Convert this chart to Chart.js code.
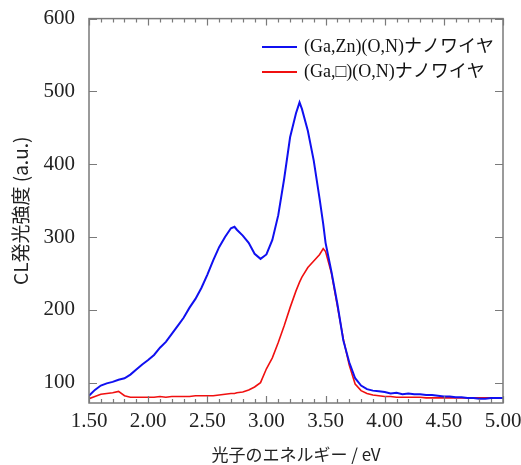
<!DOCTYPE html>
<html>
<head>
<meta charset="utf-8">
<script src="https://cdn.jsdelivr.net/npm/chart.js@4"></script>
<style>
  html, body { margin: 0; padding: 0; background: #fff; }
  #wrap { width: 521px; height: 465px; }
</style>
</head>
<body>
<div id="wrap"><canvas id="chartCL" width="521" height="465"></canvas></div>
<script>
// CL spectra of the two nanowires
const energia = [1.50,1.55,1.60,1.65,1.70,1.75,1.80,1.85,1.90,1.95,
  2.00,2.05,2.10,2.15,2.20,2.25,2.30,2.35,2.40,2.45,
  2.50,2.55,2.60,2.65,2.70,2.73,2.75,2.80,2.85,2.90,2.95,
  3.00,3.05,3.10,3.15,3.20,3.25,3.28,3.30,3.35,3.40,3.45,3.48,
  3.50,3.55,3.60,3.65,3.70,3.75,3.80,3.85,3.90,3.95,
  4.00,4.05,4.10,4.15,4.20,4.25,4.30,4.35,4.40,4.45,
  4.50,4.55,4.60,4.65,4.70,4.75,4.80,4.85,4.90,4.95,5.00]

const gaZn = [82,90,96,99,101,104,106,111,118,125,
  131,138,148,156,167,178,189,203,215,230,
  248,268,286,300,312,314,310,302,292,277,270,
  276,296,330,380,437,470,485,476,446,405,352,318,
  292,252,208,158,128,106,96,91,89,88,
  87,85,86,84,85,84,84,83,83,82,
  81,81,80,80,79,79,78,78,79,79,79]

const gaVac = [78,81,84,85,86,88,82,80,80,80,
  80,80,81,80,81,81,81,81,82,82,
  82,82,83,84,85,85,86,87,90,94,100,
  119,134,155,178,203,226,238,245,258,267,276,284,
  280,250,205,160,124,98,89,85,83,82,
  81,81,80,80,80,80,80,79,79,79,
  79,79,79,79,79,79,79,79,79,79,79]

const xTicks = [1.5, 2.0, 2.5, 3.0, 3.5, 4.0, 4.5, 5.0]
const yTicks = [100, 200, 300, 400, 500, 600]

const serie = (xs, ys) => xs.map((x, i) => ({ x: x, y: ys[i] }))

const marco = {
  id: 'marco',
  afterDraw(chart) {
    const ctx = chart.ctx
    const a = chart.chartArea
    const sx = chart.scales.x
    const sy = chart.scales.y
    ctx.save()
    ctx.strokeStyle = '#7a7a7a'
    ctx.lineWidth = 1.5
    ctx.strokeRect(a.left, a.top, a.right - a.left, a.bottom - a.top)
    ctx.lineWidth = 1.2
    ctx.beginPath()
    for (let k = 15; k <= 50; k++) {
      const px = Math.round(sx.getPixelForValue(k / 10)) + 0.5
      const len = (k % 5 === 0) ? 7 : 4
      ctx.moveTo(px, a.bottom); ctx.lineTo(px, a.bottom - len)
      ctx.moveTo(px, a.top); ctx.lineTo(px, a.top + len)
    }
    yTicks.forEach(v => {
      const py = Math.round(sy.getPixelForValue(v)) + 0.5
      ctx.moveTo(a.left, py); ctx.lineTo(a.left + 8, py)
      ctx.moveTo(a.right, py); ctx.lineTo(a.right - 8, py)
    })
    ctx.stroke()

    // leyenda
    ctx.font = '18px "Liberation Serif", "Noto Sans CJK JP"'
    ctx.textBaseline = 'middle'
    ctx.fillStyle = '#111'
    chart.data.datasets.forEach((ds, i) => {
      const y = 47 + i * 25
      ctx.strokeStyle = ds.borderColor
      ctx.lineWidth = 2
      ctx.beginPath()
      ctx.moveTo(262, y); ctx.lineTo(297, y)
      ctx.stroke()
      ctx.fillText(ds.label, 304, y)
    })
    ctx.restore()
  }
}

new Chart(document.getElementById('chartCL'), {
  type: 'line',
  data: {
    datasets: [{
      label: '(Ga,Zn)(O,N)ナノワイヤ',
      data: serie(energia, gaZn),
      borderColor: '#1010f0',
      borderWidth: 2,
      pointRadius: 0,
      tension: 0
    }, {
      label: '(Ga,□)(O,N)ナノワイヤ',
      data: serie(energia, gaVac),
      borderColor: '#f01010',
      borderWidth: 1.6,
      pointRadius: 0,
      tension: 0
    }]
  },
  options: {
    responsive: false,
    animation: false,
    layout: { padding: { top: 17, right: 18, left: 0, bottom: 0 } },
    plugins: { legend: { display: false }, tooltip: { enabled: false } },
    scales: {
      x: {
        type: 'linear',
        min: 1.5,
        max: 5.0,
        afterBuildTicks: s => { s.ticks = xTicks.map(v => ({ value: v })) },
        afterFit: s => { s.height = 62; s.paddingLeft = 0; s.paddingRight = 0 },
        grid: { display: false },
        border: { display: false },
        ticks: {
          padding: -2,
          color: '#222',
          font: { family: '"Liberation Serif"', size: 21 },
          callback: v => Number(v).toFixed(2)
        },
        title: {
          display: true,
          text: '光子のエネルギー / eV',
          color: '#222',
          font: { family: '"Noto Sans CJK JP"', size: 17 },
          padding: { top: 4, bottom: 0 }
        }
      },
      y: {
        min: 72,
        max: 600,
        afterBuildTicks: s => { s.ticks = yTicks.map(v => ({ value: v })) },
        afterFit: s => { s.width = 89 },
        grid: { display: false },
        border: { display: false },
        ticks: {
          padding: 6,
          color: '#222',
          font: { family: '"Liberation Serif"', size: 21 }
        },
        title: {
          display: true,
          text: 'CL発光強度 (a.u.)',
          color: '#222',
          font: { family: '"Noto Sans CJK JP"', size: 19 },
          padding: { top: 9, bottom: 4 }
        }
      }
    }
  },
  plugins: [marco]
})
</script>
</body>
</html>
